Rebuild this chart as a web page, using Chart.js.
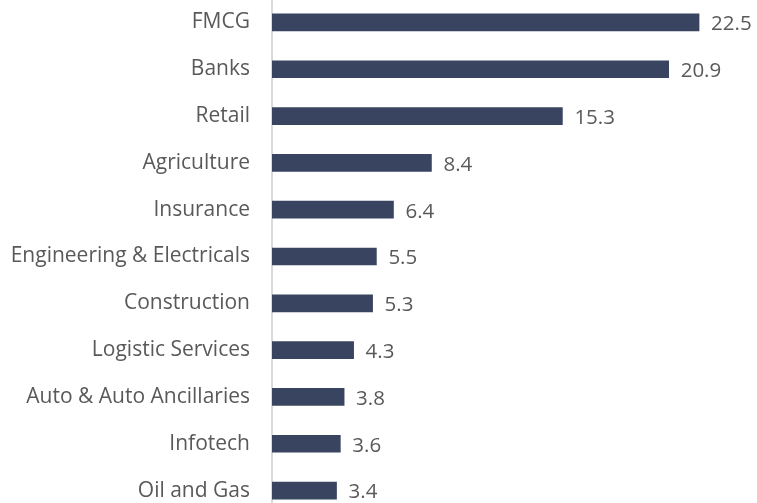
<!DOCTYPE html>
<html>
<head>
<meta charset="utf-8">
<script src="https://cdn.jsdelivr.net/npm/chart.js@4/dist/chart.umd.min.js"></script>
<style>
    html, body { margin: 0; padding: 0; background: #fff; overflow: hidden; }
    #wrap { position: absolute; left: 0; top: -2px; width: 757px; height: 517px; }
</style>
</head>
<body>
<div id="wrap"><canvas id="chart"></canvas></div>
<script>
// ===== DATOS =====
const categories = [
    'FMCG', 'Banks', 'Retail', 'Agriculture', 'Insurance',
    'Engineering & Electricals', 'Construction', 'Logistic Services',
    'Auto & Auto Ancillaries', 'Infotech', 'Oil and Gas'
];
const values = [22.5, 20.9, 15.3, 8.4, 6.4, 5.5, 5.3, 4.3, 3.8, 3.6, 3.4];

const FONT = '"Open Sans", sans-serif';
const TEXT_COLOR = '#595959';

// ===== ETIQUETAS DE VALOR =====
const valueLabels = {
    id: 'valueLabels',
    afterDatasetsDraw(chart) {
        const { ctx } = chart;
        const meta = chart.getDatasetMeta(0);
        ctx.save();
        ctx.font = `20.5px ${FONT}`;
        ctx.fillStyle = TEXT_COLOR;
        ctx.textAlign = 'left';
        ctx.textBaseline = 'middle';
        meta.data.forEach((bar, i) => {
            ctx.fillText(values[i].toFixed(1), bar.x + 12, bar.y + 2);
        });
        ctx.restore();
    }
};

new Chart(document.getElementById('chart'), {
    type: 'bar',
    data: {
        labels: categories,
        datasets: [{
            data: values,
            backgroundColor: '#384460',
            barThickness: 17,
        }]
    },
    options: {
        indexAxis: 'y',
        responsive: true,
        maintainAspectRatio: false,
        animation: false,
        layout: { padding: { right: 10.5, top: 0, bottom: 0 } },
        plugins: { legend: { display: false }, tooltip: { enabled: false } },
        scales: {
            x: {
                display: false,
                min: 0,
                max: 25,
            },
            y: {
                afterFit(scale) { scale.width = 272; },
                grid: { display: false, drawTicks: true, tickLength: 22 },
                border: { display: true, color: '#d9d9d9', width: 2 },
                ticks: {
                    color: TEXT_COLOR,
                    padding: 0,
                    font: { family: FONT, size: 21, lineHeight: 0.1 },
                }
            }
        }
    },
    plugins: [valueLabels]
});
</script>
</body>
</html>
